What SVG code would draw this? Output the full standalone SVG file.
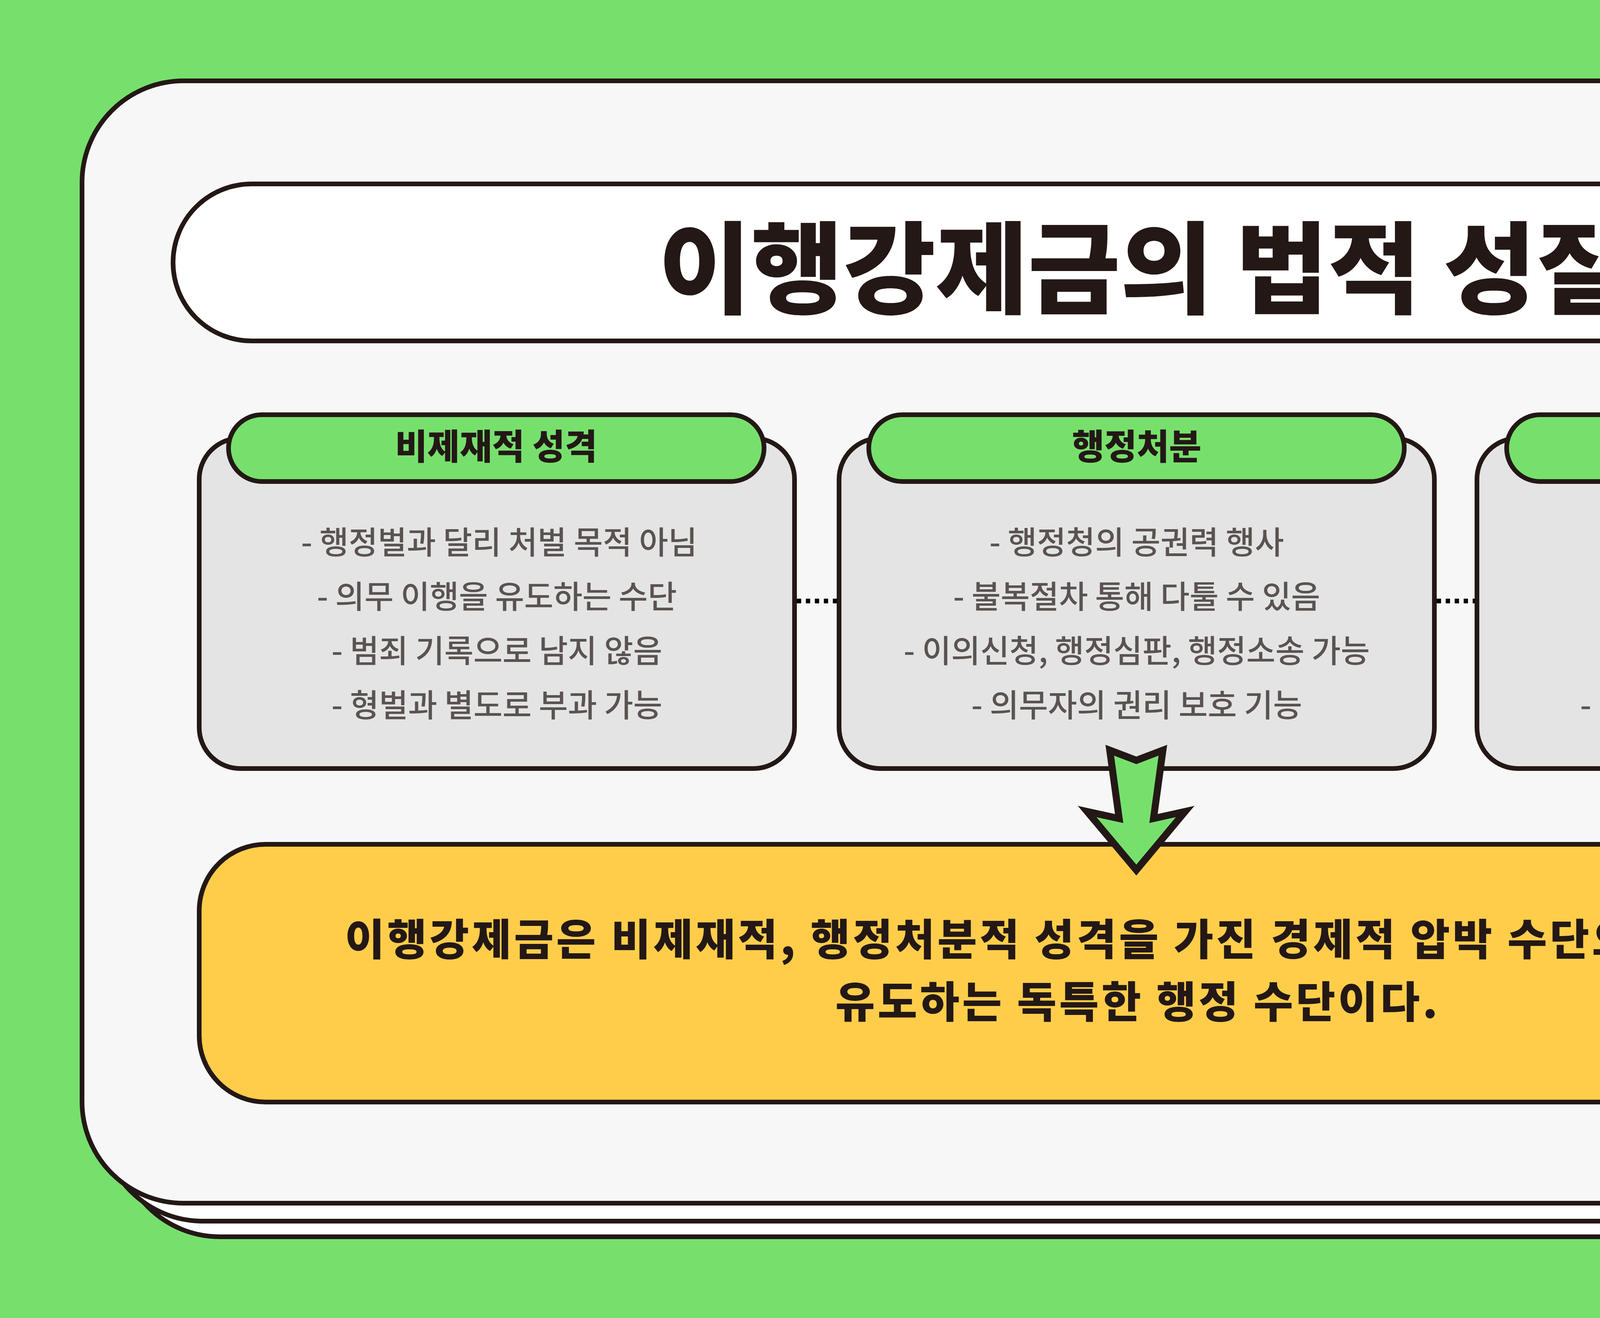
<svg xmlns="http://www.w3.org/2000/svg" width="6000" height="3375" viewBox="0 0 6000 3375">
<style>
.ln{stroke:#231815;stroke-width:12}
.sheet{fill:#ffffff}
.front{fill:#f7f7f7}
.card{fill:#e4e4e4}
.hdr{fill:#77e06d}
.title{font-family:"Noto Sans CJK KR","Noto Sans",sans-serif;font-weight:900;fill:#231815;text-anchor:middle}
.sum{font-family:"Noto Sans CJK KR","Noto Sans",sans-serif;font-weight:900;font-size:110px;letter-spacing:7px;fill:#231815;text-anchor:middle}
.body{font-family:"Noto Sans CJK KR","Noto Sans",sans-serif;font-weight:500;font-size:81px;fill:#5a5352;text-anchor:middle}
.dot{stroke:#000;stroke-width:12;stroke-dasharray:11 12;fill:none}
</style>
<rect width="6000" height="3375" fill="#77e06d"/>
<g id="backdrop">
<rect class="sheet ln" x="303" y="293" width="5439" height="2874" rx="260"/>
<rect class="sheet ln" x="259" y="253" width="5439" height="2874" rx="260"/>
<rect class="front ln" x="210" y="207" width="5439" height="2874" rx="260"/>
</g>
<g id="title">
<rect x="443" y="471" width="4952" height="402" rx="201" fill="#ffffff" class="ln"/>
<text class="title" x="2927" y="783" font-size="257">이행강제금의 법적 성질</text>
</g>
<g id="card-left">
<rect class="card ln" x="510" y="1122" width="1524" height="846" rx="105"/>
<rect class="hdr ln" x="585" y="1062" width="1371" height="171" rx="85.5"/>
<text class="title" x="1270" y="1176" font-size="90">비제재적 성격</text>
<text class="body" x="1278" y="1418">- 행정벌과 달리 처벌 목적 아님</text>
<text class="body" x="1272" y="1557">- 의무 이행을 유도하는 수단</text>
<text class="body" x="1272" y="1696">- 범죄 기록으로 남지 않음</text>
<text class="body" x="1272" y="1835">- 형벌과 별도로 부과 가능</text>
</g>
<g id="card-middle">
<rect class="card ln" x="2148" y="1122" width="1524" height="846" rx="105"/>
<rect class="hdr ln" x="2224" y="1062" width="1371" height="171" rx="85.5"/>
<text class="title" x="2910" y="1176" font-size="90">행정처분</text>
<text class="body" x="2910" y="1418">- 행정청의 공권력 행사</text>
<text class="body" x="2910" y="1557">- 불복절차 통해 다툴 수 있음</text>
<text class="body" x="2910" y="1696">- 이의신청, 행정심판, 행정소송 가능</text>
<text class="body" x="2910" y="1835">- 의무자의 권리 보호 기능</text>
</g>
<g id="card-right">
<rect class="card ln" x="3781" y="1122" width="1524" height="846" rx="105"/>
<rect class="hdr ln" x="3857" y="1062" width="1371" height="171" rx="85.5"/>
<text class="title" x="4542" y="1176" font-size="90">경제적 압박</text>
<text class="body" x="4543" y="1418">- 금전적 제재를 통한 압박</text>
<text class="body" x="4543" y="1557">- 직접적 강제력 없음</text>
<text class="body" x="4543" y="1696">- 자발적 의무이행 유도</text>
<text class="body" x="4543" y="1835">- 대집행과 달리 물리력 미사용</text>
</g>
<g id="summary">
<rect x="510" y="2162" width="4795" height="660" rx="170" fill="#ffcd4a" class="ln"/>
<text class="sum" x="2913" y="2446">이행강제금은 비제재적, 행정처분적 성격을 가진 경제적 압박 수단으로, 의무 이행을</text>
<text class="sum" x="2913" y="2606">유도하는 독특한 행정 수단이다.</text>
</g>
<g id="connectors">
<line class="dot" x1="2040" y1="1539" x2="2142" y2="1539"/>
<line class="dot" x1="3678" y1="1539" x2="3775" y2="1539"/>
<polygon points="2841,1921 2909,1947 2977,1921 2953,2096 3034,2078 2909,2228 2783,2078 2865,2096" fill="#77e06d" stroke="#231815" stroke-width="18" stroke-linejoin="miter" stroke-miterlimit="10"/>
</g>
</svg>
